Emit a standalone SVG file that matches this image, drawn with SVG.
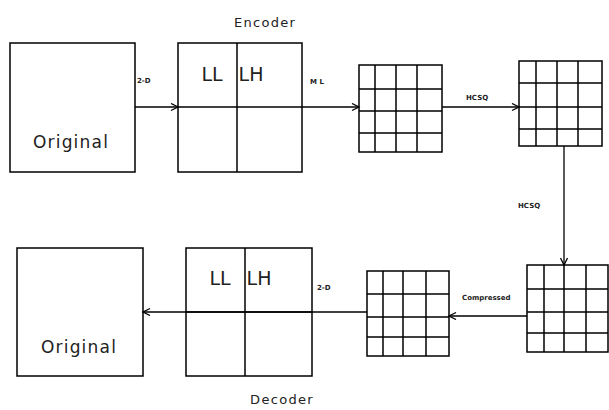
<svg xmlns="http://www.w3.org/2000/svg" width="609" height="410" viewBox="0 0 609 410">
<style>
.b{fill:none;stroke:#000;stroke-width:1.5}
.g{fill:none;stroke:#000;stroke-width:1.5}
.c{fill:none;stroke:#000;stroke-width:1.3}
.t{font-family:"DejaVu Sans",sans-serif;fill:#222}
.big{font-size:17px;letter-spacing:1.2px}
.ll{font-size:19px}
.mid{font-size:13px;letter-spacing:1.3px}
.sm{font-size:7px;font-weight:bold}
</style>
<defs>
<marker id="a" markerWidth="10" markerHeight="10" refX="8" refY="4" orient="auto" markerUnits="userSpaceOnUse">
<polyline points="1,0.5 8,4 1,7.5" fill="none" stroke="#000" stroke-width="1.3"/>
</marker>
</defs>
<rect width="609" height="410" fill="#fff"/>
<text class="t mid" x="265" y="27" text-anchor="middle">Encoder</text>
<text class="t mid" x="282" y="404" text-anchor="middle">Decoder</text>
<g id="orig1">
<rect class="b" x="10" y="43" width="125" height="129"/>
<text class="t big" x="71" y="148" text-anchor="middle">Original</text>
</g>
<g id="enc">
<rect class="b" x="178" y="43" width="124" height="129"/>
<line class="b" x1="237" y1="43" x2="237" y2="172"/>
<line class="b" x1="178" y1="107" x2="302" y2="107"/>
<text class="t ll" x="212" y="81" text-anchor="middle">LL</text>
<text class="t ll" x="251" y="81" text-anchor="middle">LH</text>
</g>
<g id="grid1">
<rect class="g" x="359" y="65" width="83" height="87"/>
<path class="g" d="M375 65V152M396 65V152M417 65V152M359 89H442M359 111H442M359 133H442"/>
</g>
<g id="grid2">
<rect class="g" x="519" y="61" width="83" height="85"/>
<path class="g" d="M536 61V146M557 61V146M578 61V146M519 83H602M519 107H602M519 129H602"/>
</g>
<g id="grid3">
<rect class="g" x="527" y="265" width="81" height="87"/>
<path class="g" d="M544 265V352M564 265V352M586 265V352M527 289H608M527 312H608M527 333H608"/>
</g>
<g id="grid4">
<rect class="g" x="367" y="271" width="82" height="85"/>
<path class="g" d="M383 271V356M403 271V356M426 271V356M367 294H449M367 317H449M367 337H449"/>
</g>
<g id="dec">
<rect class="b" x="186" y="248" width="126" height="128"/>
<line class="b" x1="245" y1="248" x2="245" y2="376"/>
<line class="b" x1="186" y1="312" x2="312" y2="312"/>
<text class="t ll" x="220" y="285" text-anchor="middle">LL</text>
<text class="t ll" x="259" y="285" text-anchor="middle">LH</text>
</g>
<g id="orig2">
<rect class="b" x="17" y="248" width="126" height="128"/>
<text class="t big" x="79" y="353" text-anchor="middle">Original</text>
</g>
<g id="connectors">
<line class="c" x1="135" y1="107" x2="178" y2="107" marker-end="url(#a)"/>
<line class="c" x1="302" y1="107" x2="359" y2="107" marker-end="url(#a)"/>
<line class="c" x1="442" y1="107" x2="519" y2="107" marker-end="url(#a)"/>
<polyline class="c" points="564,146 564,265" marker-end="url(#a)"/>
<line class="c" x1="527" y1="316" x2="449" y2="316" marker-end="url(#a)"/>
<line class="c" x1="367" y1="312" x2="143" y2="312" marker-end="url(#a)"/>
<text class="t sm" x="137" y="83">2-D</text>
<text class="t sm" x="310" y="84">M L</text>
<text class="t sm" x="466" y="100">HCSQ</text>
<text class="t sm" x="518" y="208">HCSQ</text>
<text class="t sm" x="462" y="300">Compressed</text>
<text class="t sm" x="317" y="290">2-D</text>
</g>
</svg>
